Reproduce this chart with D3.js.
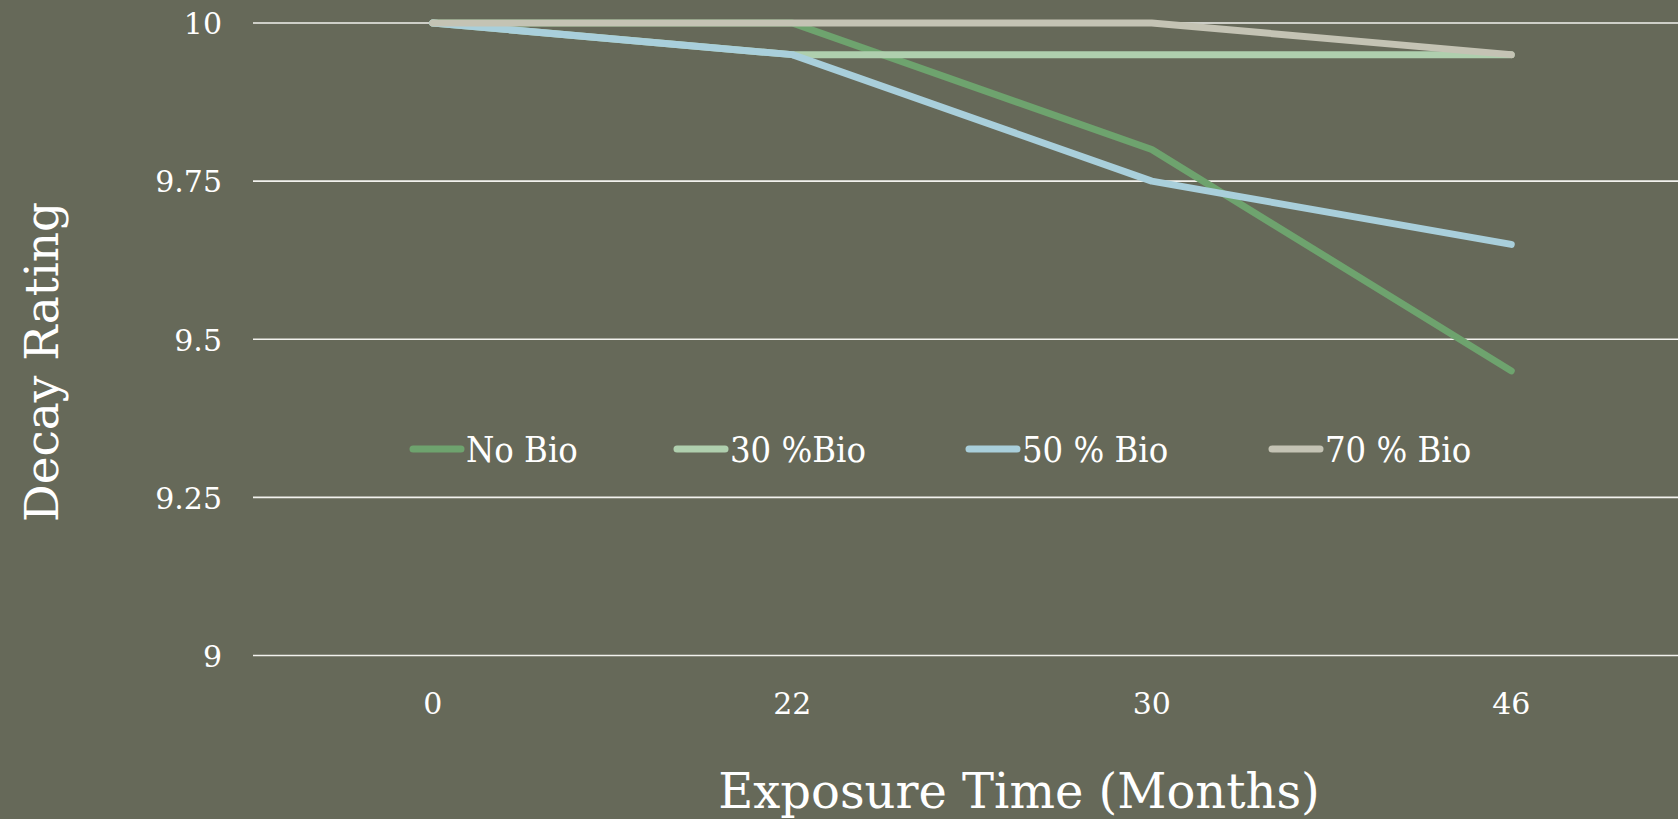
<!DOCTYPE html>
<html><head><meta charset="utf-8">
<script src="https://cdn.jsdelivr.net/npm/d3@7"></script>
<style>
html,body{margin:0;padding:0;background:#666959;}
svg{display:block;}
text{font-family:"DejaVu Serif",serif;fill:#ffffff;}
</style></head>
<body>
<svg id="chart" width="1678" height="819"></svg>
<script>
const categories = ["0", "22", "30", "46"];
const seriesNames = ["No Bio", "30 %Bio", "50 % Bio", "70 % Bio"];
const noBio   = [10, 10, 9.8, 9.45];
const bio30   = [10, 9.95, 9.95, 9.95];
const bio50   = [10, 9.95, 9.75, 9.65];
const bio70   = [10, 10, 10, 9.95];
const yTicks  = [9, 9.25, 9.5, 9.75, 10];
const yTickLabels = ["9", "9.25", "9.5", "9.75", "10"];
const colors = ["#6ea36e", "#afcfae", "#a9cfdb", "#c4c3b4"];

const series = [noBio, bio30, bio50, bio70];

const svg = d3.select("#chart");
const x = d3.scaleBand().domain(categories).range([253, 1691]);
const y = d3.scaleLinear().domain([9, 10]).range([655.5, 23]);

// gridlines
svg.append("g").selectAll("line").data(yTicks).join("line")
  .attr("x1", 253).attr("x2", 1678)
  .attr("y1", d => y(d)).attr("y2", d => y(d))
  .attr("stroke", "#f2f2ee").attr("stroke-width", 1.6);

// y axis labels
const yAxis = d3.axisLeft(y).tickValues(yTicks)
  .tickFormat((d, i) => yTickLabels[i]).tickSize(0).tickPadding(0);
const ga = svg.append("g").attr("transform", "translate(222,0)").call(yAxis);
ga.select(".domain").remove();
ga.selectAll("text").attr("font-family", "DejaVu Serif").attr("font-size", 30)
  .attr("fill", "#fff").attr("dy", "0.36em");

// x axis labels
const xAxis = d3.axisBottom(x).tickSize(0).tickPadding(0);
const gx = svg.append("g").attr("transform", "translate(0,703)").call(xAxis);
gx.select(".domain").remove();
gx.selectAll("text").attr("font-family", "DejaVu Serif").attr("font-size", 30)
  .attr("fill", "#fff").attr("dy", "0.36em");

// lines
const line = d3.line().x((d, i) => x(categories[i]) + x.bandwidth() / 2).y(d => y(d));
const drawOrder = [0, 1, 2, 3];
svg.append("g").selectAll("path").data(drawOrder).join("path")
  .attr("d", k => line(series[k]))
  .attr("fill", "none").attr("stroke", k => colors[k])
  .attr("stroke-width", 7).attr("stroke-linecap", "round").attr("stroke-linejoin", "round");

// legend
const legX = [410, 674, 966, 1269];
const legY = 449;
const lg = svg.append("g");
seriesNames.forEach((name, i) => {
  lg.append("line").attr("x1", legX[i] + 3).attr("x2", legX[i] + 51)
    .attr("y1", legY).attr("y2", legY)
    .attr("stroke", colors[i]).attr("stroke-width", 7).attr("stroke-linecap", "round");
  lg.append("text").attr("x", legX[i] + 56).attr("y", legY).attr("dy", "0.36em")
    .attr("font-family", "DejaVu Serif Condensed, DejaVu Serif")
    .attr("font-stretch", "condensed")
    .attr("font-size", 36).text(name);
});

// axis titles
svg.append("text").attr("x", 1019).attr("y", 808).attr("text-anchor", "middle")
  .attr("font-size", 48).text("Exposure Time (Months)");
svg.append("text").attr("transform", "translate(58,362) rotate(-90)")
  .attr("text-anchor", "middle").attr("font-size", 47).text("Decay Rating");
</script>
</body></html>
